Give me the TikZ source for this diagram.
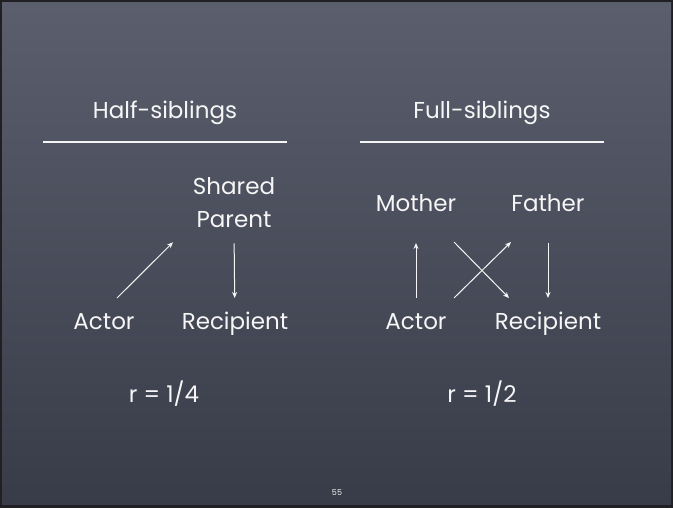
\documentclass[tikz,border=0pt]{standalone}
\usepackage{fontspec}
\setmainfont{Poppins}
\usetikzlibrary{arrows.meta}

\definecolor{slatetop}{RGB}{91,95,109}
\definecolor{slatebottom}{RGB}{56,59,72}
\definecolor{slateframe}{RGB}{32,32,36}
\definecolor{chalk}{RGB}{246,246,246}

\tikzset{
  lbl/.style={text=chalk, inner sep=0pt, anchor=base, font=\fontsize{23}{33}\selectfont},
  arr/.style={draw=chalk, line width=1pt, -{Stealth[length=6pt,width=5pt]}},
  rule/.style={draw=chalk, line width=1.4pt}
}

\begin{document}
\begin{tikzpicture}[x=1pt,y=1pt]
\path[use as bounding box] (0,0) rectangle (673,508);
% board and its dark frame
\fill[slateframe] (0,0) rectangle (673,508);
\shade[top color=slatetop,bottom color=slatebottom] (2,3) rectangle (671,505);

% half-siblings
\node[lbl] (hhead) at (165,389) {Half-siblings};
\draw[rule] ([shift={(-122,-23)}]hhead.base) -- ([shift={(122,-23)}]hhead.base);
\node[lbl,anchor=center,align=center] (hparent) at (234,305) {Shared\\Parent};
\node[lbl] (hactor) at (104,178) {Actor};
\node[lbl] (hrecip) at (235,178) {Recipient};
\node[lbl] (hrel) at (164,105) {r = 1/4};
\draw[arr] ([shift={(13,32)}]hactor.base) -- ([shift={(-61,-14)}]hparent.south);
\draw[arr,shorten <=15pt,shorten >=32pt] (hparent.south) -- (hrecip.base);

% full-siblings
\node[lbl] (fhead) at (482,389) {Full-siblings};
\draw[rule] ([shift={(-122,-23)}]fhead.base) -- ([shift={(122,-23)}]fhead.base);
\node[lbl] (fmother) at (416,296) {Mother};
\node[lbl] (ffather) at (548,296) {Father};
\node[lbl] (factor) at (416,178) {Actor};
\node[lbl] (frecip) at (548,178) {Recipient};
\node[lbl] (frel) at (482,105) {r = 1/2};
\draw[arr,shorten <=32pt,shorten >=31pt] (factor.base) -- (fmother.base);
\draw[arr] ([shift={(38,-30)}]fmother.base) -- ([shift={(-39,32)}]frecip.base);
\draw[arr] ([shift={(38,32)}]factor.base) -- ([shift={(-37,-30)}]ffather.base);
\draw[arr,shorten <=31pt,shorten >=32pt] (ffather.base) -- (frecip.base);

\node[text=chalk!85, font=\fontsize{8}{10}\selectfont] (pagenum) at (337,15) {55};
\end{tikzpicture}
\end{document}
